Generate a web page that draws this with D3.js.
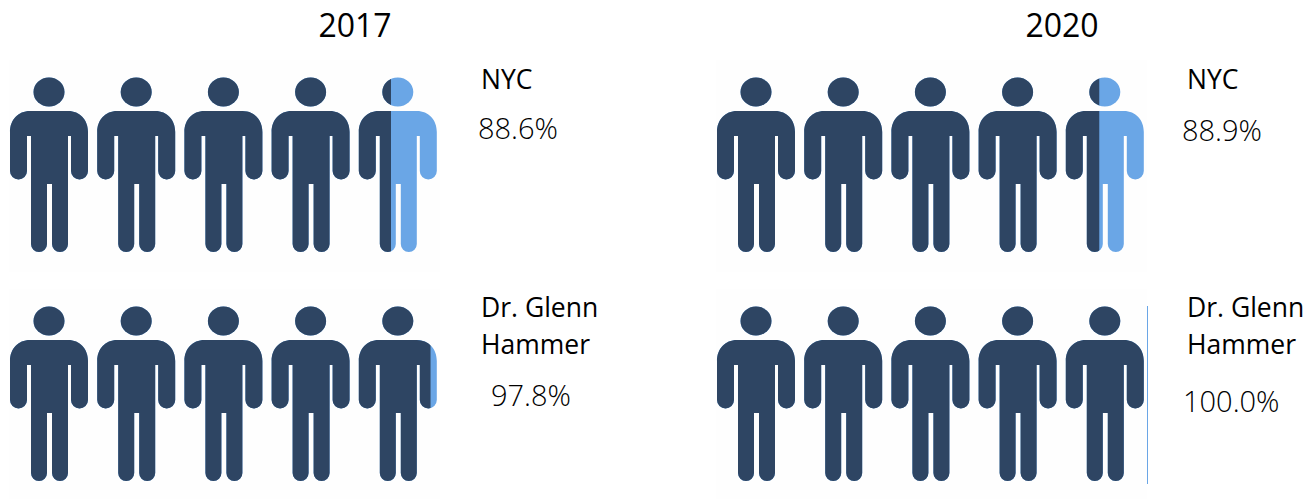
<!DOCTYPE html>
<html>
<head>
<meta charset="utf-8">
<script src="https://cdn.jsdelivr.net/npm/d3@7"></script>
<style>
  html, body { margin: 0; padding: 0; background: #fff; }
  svg { display: block; }
  text { font-family: "Open Sans", sans-serif; fill: #000; }
</style>
</head>
<body>
<div id="chart"></div>
<script>
var years = ["2017", "2020"];
var groups = ["NYC", "Dr. Glenn Hammer"];
var values2017 = [88.6, 97.8];
var values2020 = [88.9, 100.0];
var icons = [0, 1, 2, 3, 4];

var width = 1312, height = 499;
var darkBlue = "#2d4563", lightBlue = "#6aa6e6";

// one figure, drawn in a 78 x 174 box
var personBody = "M20 33 H58 C70 33 78 42 78 54 V93 A8.5 8.5 0 0 1 61 93 V58 H58 V166 A8 8 0 0 1 42 166 V106 H37 V166 A8 8 0 0 1 21 166 V58 H17 V93 A8.5 8.5 0 0 1 0 93 V54 C0 42 8 33 20 33 Z";

var svg = d3.select("#chart")
    .append("svg")
        .attr("width", width)
        .attr("height", height);

var defs = svg.append("defs");
defs.append("filter")
    .attr("id", "soft")
    .append("feGaussianBlur")
        .attr("stdDeviation", 0.6);

// 0-100 runs across the whole row of figures
var x = d3.scaleLinear()
    .domain([0, 100])
    .range([0, 430]);

var iconX = d3.scaleBand()
    .domain(icons)
    .range([0, 436]);

var panelX = d3.scaleOrdinal().domain(years).range([10, 717]);
var rowY = d3.scaleOrdinal().domain(groups).range([78, 307]);

function drawPeople(g, colour) {
    var p = g.selectAll("g")
        .data(icons)
        .enter()
        .append("g")
            .attr("transform", function(d) { return "translate(" + iconX(d) + ",0)"; })
            .attr("fill", colour);
    p.append("ellipse")
        .attr("cx", 39)
        .attr("cy", 14)
        .attr("rx", 15.5)
        .attr("ry", 14.5);
    p.append("path")
        .attr("d", personBody);
}

function drawRow(year, group, value, id) {
    // faint edge of the pasted picture
    svg.append("rect")
        .attr("x", panelX(year) - 1)
        .attr("y", rowY(group) - 18)
        .attr("width", 431)
        .attr("height", 212)
        .attr("fill", "#fefefe");

    var row = svg.append("g")
        .attr("transform", "translate(" + panelX(year) + "," + rowY(group) + ")")
        .attr("filter", "url(#soft)");

    defs.append("clipPath")
        .attr("id", id)
        .append("rect")
            .attr("x", -5)
            .attr("y", -5)
            .attr("width", x(value) + 5)
            .attr("height", 190);

    drawPeople(row.append("g"), lightBlue);
    drawPeople(row.append("g").attr("clip-path", "url(#" + id + ")"), darkBlue);
}

years.forEach(function(year, i) {
    var vals = i == 0 ? values2017 : values2020;
    groups.forEach(function(group, j) {
        drawRow(year, group, vals[j], "clip" + i + j);
    });
});

// thin end line on the 100% row
svg.append("line")
    .attr("x1", panelX("2020") + x(100) + 0.5)
    .attr("x2", panelX("2020") + x(100) + 0.5)
    .attr("y1", 306)
    .attr("y2", 484)
    .attr("stroke", lightBlue)
    .attr("stroke-width", 1);

// titles
svg.selectAll(".year")
    .data(years)
    .enter()
    .append("text")
        .attr("class", "year")
        .attr("x", function(d) { return panelX(d) + 345; })
        .attr("y", 37)
        .attr("text-anchor", "middle")
        .style("font-size", "32px")
        .text(function(d) { return d; });

function label(tx, ty, str, size, weight) {
    svg.append("text")
        .attr("x", tx)
        .attr("y", ty)
        .style("font-size", size + "px")
        .style("font-weight", weight)
        .text(str);
}

var nameWords = ["Dr. Glenn", "Hammer"];

label(481, 89, groups[0], 26.5, 400);
label(1187, 89, groups[0], 26.5, 400);
label(481, 317, nameWords[0], 26.5, 400);
label(481, 354, nameWords[1], 26.5, 400);
label(1187, 317, nameWords[0], 26.5, 400);
label(1187, 354, nameWords[1], 26.5, 400);

label(478, 139, d3.format(".1f")(values2017[0]) + "%", 29, 300);
label(491, 406, d3.format(".1f")(values2017[1]) + "%", 29, 300);
label(1182, 141, d3.format(".1f")(values2020[0]) + "%", 29, 300);
label(1183, 412, d3.format(".1f")(values2020[1]) + "%", 29, 300);
</script>
</body>
</html>
